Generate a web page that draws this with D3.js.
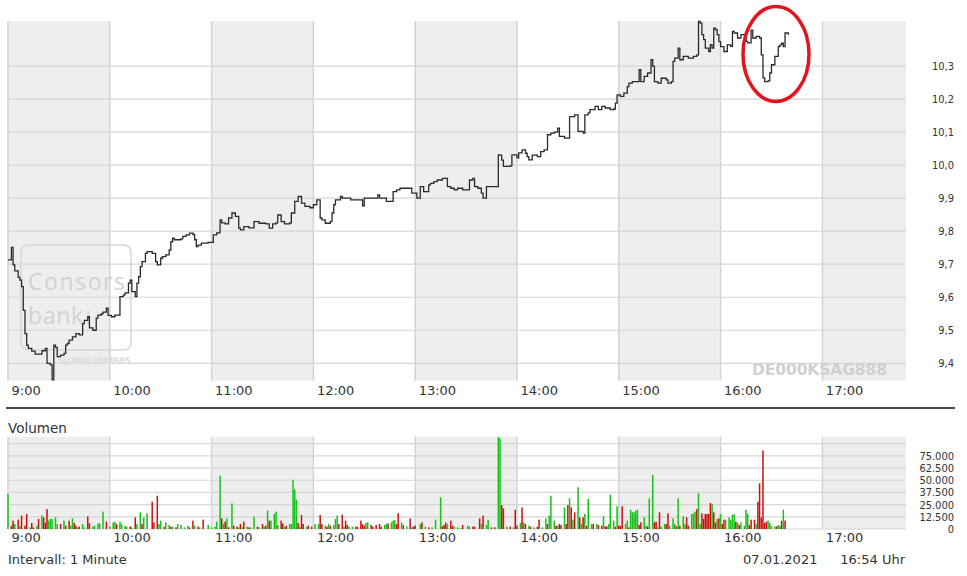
<!DOCTYPE html>
<html>
<head>
<meta charset="utf-8">
<script src="https://cdn.jsdelivr.net/npm/d3@7"></script>
<style>
  body { margin: 0; background: #fff; }
  text { font-family: "DejaVu Sans", Verdana, sans-serif; fill: #333; }
  .num text, text.num { font-family: "DejaVu Sans Condensed", "Liberation Sans", Arial, sans-serif; font-size: 11px; }
</style>
</head>
<body>
<svg id="chart" width="967" height="576"></svg>
<script>
// minutes after 9:00 where the price changes, and the new price
const priceMinutes = [0,2,3,4,6,7,8,9,10,11,12,14,16,20,22,23,25,26,27,28,29,31,33,34,35,36,38,40,42,44,45,47,48,50,52,53,55,56,58,59,61,63,66,68,69,71,72,73,75,76,77,78,79,81,82,85,87,88,90,91,93,95,96,97,98,102,103,105,107,109,110,111,112,114,118,121,123,125,126,128,130,132,134,136,137,139,142,145,148,152,154,156,158,159,161,163,166,167,169,171,173,175,178,180,182,184,185,187,190,191,192,193,196,197,202,209,210,218,219,223,227,229,231,238,241,243,245,248,249,251,253,256,259,261,263,265,268,272,274,275,277,279,280,282,289,290,291,292,296,297,300,301,303,305,306,307,309,312,314,316,318,320,322,324,325,328,331,334,336,339,340,342,343,346,348,350,352,355,357,358,359,361,363,365,366,368,372,373,375,377,379,380,381,383,385,388,389,391,392,393,395,396,398,401,404,406,407,408,409,410,411,413,414,415,416,417,418,419,420,422,424,426,427,428,430,432,435,436,438,439,441,443,444,445,446,448,449,450,452,454,455,456,457,458,460];
const priceValues = [9.713,9.751,9.698,9.680,9.660,9.652,9.632,9.560,9.490,9.455,9.445,9.437,9.428,9.438,9.445,9.400,9.395,9.350,9.455,9.448,9.420,9.425,9.430,9.455,9.460,9.470,9.480,9.490,9.486,9.520,9.530,9.541,9.507,9.500,9.537,9.546,9.550,9.555,9.567,9.545,9.541,9.546,9.602,9.607,9.613,9.643,9.652,9.617,9.602,9.643,9.662,9.693,9.708,9.733,9.738,9.733,9.708,9.698,9.718,9.723,9.728,9.743,9.768,9.779,9.774,9.777,9.784,9.789,9.794,9.790,9.774,9.753,9.758,9.764,9.766,9.789,9.795,9.834,9.825,9.822,9.840,9.855,9.845,9.809,9.804,9.814,9.810,9.829,9.824,9.822,9.809,9.822,9.825,9.849,9.829,9.822,9.825,9.855,9.890,9.905,9.885,9.875,9.871,9.880,9.895,9.840,9.834,9.824,9.830,9.855,9.880,9.895,9.905,9.900,9.895,9.877,9.900,9.910,9.900,9.890,9.920,9.925,9.930,9.915,9.900,9.935,9.920,9.940,9.945,9.950,9.955,9.960,9.935,9.930,9.925,9.930,9.925,9.955,9.960,9.935,9.930,9.915,9.900,9.935,10.031,10.030,10.015,9.996,9.998,10.031,10.022,10.037,10.046,10.036,10.026,10.016,10.030,10.026,10.041,10.046,10.092,10.097,10.100,10.112,10.087,10.082,10.147,10.152,10.102,10.097,10.152,10.158,10.168,10.178,10.168,10.178,10.173,10.168,10.170,10.188,10.213,10.208,10.218,10.238,10.248,10.253,10.289,10.253,10.269,10.279,10.319,10.300,10.253,10.248,10.263,10.258,10.248,10.253,10.314,10.324,10.354,10.319,10.329,10.324,10.329,10.334,10.435,10.430,10.395,10.380,10.354,10.344,10.365,10.354,10.415,10.410,10.395,10.374,10.359,10.344,10.364,10.360,10.405,10.400,10.385,10.395,10.375,10.370,10.409,10.385,10.390,10.385,10.334,10.264,10.253,10.255,10.279,10.304,10.329,10.359,10.364,10.369,10.359,10.400,10.395];

const volumeMinutes = [0,2,3,4,6,7,8,10,11,13,14,15,17,18,20,21,22,23,24,25,26,28,29,31,33,34,36,37,38,39,40,41,42,44,45,47,48,50,51,53,54,56,58,60,62,63,64,66,67,69,70,72,73,75,76,78,79,80,82,85,86,88,89,90,92,93,95,96,97,99,100,102,104,106,107,109,110,112,113,115,118,120,122,123,125,126,127,128,129,130,132,133,135,136,137,138,139,141,142,143,145,147,148,150,151,152,153,154,155,157,158,159,161,162,163,164,166,167,168,169,170,171,172,173,174,176,177,179,181,183,184,185,187,188,189,190,192,193,194,195,197,198,199,200,201,203,205,206,208,209,210,211,212,214,215,217,219,220,222,223,224,226,227,228,229,230,232,233,235,237,238,239,240,243,244,246,248,250,252,255,256,257,258,259,261,262,263,265,267,268,271,272,274,275,278,279,280,282,283,285,287,289,290,291,292,294,296,298,299,300,302,303,304,305,307,308,310,312,313,315,317,318,319,320,322,323,324,325,326,328,329,330,331,332,333,334,336,337,338,339,340,341,342,344,345,347,348,350,351,352,353,354,355,357,358,359,360,361,362,364,365,366,367,368,369,370,371,372,373,375,376,377,378,380,381,382,383,384,385,387,388,389,390,392,393,394,395,396,398,399,400,401,403,404,405,406,407,408,409,410,411,412,413,414,415,416,417,418,419,420,421,422,423,425,426,427,428,429,430,431,432,434,435,436,437,438,440,441,442,443,444,445,446,447,448,449,450,452,453,454,455,456,457,458];
const volumeValues = [35900,3400,8600,5100,9600,3400,13700,3400,15400,1700,6200,1700,3400,10300,13700,12000,6800,20500,8600,10300,10300,12000,5100,5100,8600,3400,8600,3400,10900,6200,3400,1700,2400,5100,1700,13000,5800,2400,3400,5800,5800,17800,7500,2400,6800,7500,5100,7500,5100,3400,2400,2700,1700,12000,5100,17100,5100,12000,16100,28000,6800,34200,5100,8600,2400,6800,4100,2400,2400,1700,5100,4100,1700,3400,1700,8600,3400,2700,1700,9600,4100,1700,2400,7500,54700,10900,5100,7500,10900,1700,26300,3400,2400,1700,5100,1700,7500,2400,1700,1700,12700,2400,1700,5100,2400,3400,18800,8600,8600,15400,17800,4100,8600,5800,2400,3400,5100,5100,50600,40400,30100,6200,2400,14400,5100,2400,3400,2400,5100,5100,14400,5100,3400,2400,5100,3400,4100,10300,13700,5100,14700,2400,8600,4100,2400,2400,2400,2400,8600,5100,3400,6200,6800,4100,2400,4100,5100,2400,4100,5100,5800,6800,8600,9200,5100,16100,6800,4100,2700,10900,1700,2700,3400,5100,6800,2400,1700,1700,9600,32500,2700,4100,6800,5100,8600,3400,2400,1700,1000,4100,3400,2400,2400,2400,10900,5100,13700,4100,9600,1700,1700,94500,93000,24600,21200,2400,2400,1700,19800,3400,6200,22200,6800,5100,3400,2400,1700,2400,9600,1700,10900,5100,13700,34200,8600,3400,3400,5100,4100,22200,5100,24600,31500,22200,9600,17100,42800,12000,5100,12000,15400,3400,30800,5100,5100,5100,4100,3400,13000,2700,2700,5100,35200,8600,2400,23300,3400,3400,23300,5100,8600,1700,19800,17100,17100,18800,19800,4100,6800,12000,3400,2700,31500,55400,6800,7500,1700,17100,2700,5100,5100,16100,3400,10900,5100,2700,31500,3400,13000,5100,12000,3400,15400,16100,17800,20500,36900,5100,16100,10300,15400,15400,15400,26700,25600,17100,6800,10300,10900,15400,5100,9600,9600,12000,9600,14400,15400,7500,6800,4100,6800,3400,19800,15400,4100,9600,9600,5100,28000,46900,12000,80400,6200,7500,8600,6200,3400,2400,2700,4100,3400,8600,19800,8600];
const volumeDirection = ["u","d","d","u","d","u","d","d","d","u","d","d","u","d","u","d","d","d","u","u","u","u","u","d","u","d","d","u","u","d","d","u","d","u","u","d","d","u","u","u","u","u","d","u","u","u","d","u","u","u","u","d","u","d","u","u","d","u","u","d","d","d","u","u","d","u","u","d","u","d","u","u","u","u","d","d","u","d","u","d","u","u","u","u","u","d","u","d","u","d","u","d","d","u","d","u","d","u","d","u","u","d","u","d","u","d","u","d","u","u","u","u","d","d","u","d","u","u","u","u","u","d","u","d","d","u","d","d","u","u","d","d","u","d","u","d","u","u","u","d","d","u","d","d","u","u","d","d","d","d","d","u","u","d","d","d","d","d","u","u","d","u","u","u","d","d","u","d","u","d","u","d","d","u","d","u","d","u","u","u","d","d","d","u","d","d","u","u","u","d","u","u","d","d","d","u","d","u","u","d","d","u","u","d","d","u","d","u","d","d","u","d","u","d","u","d","u","d","d","u","u","d","u","u","u","d","u","d","d","u","d","d","u","d","u","d","u","d","u","d","u","d","u","u","d","u","d","d","u","d","d","u","u","u","d","u","d","d","d","u","u","d","u","u","u","u","u","d","d","u","u","d","u","u","d","d","u","d","u","u","d","d","u","u","u","d","u","d","u","u","d","d","u","u","u","d","u","u","d","d","d","d","d","d","u","d","d","u","d","u","d","d","u","u","u","u","u","d","u","d","u","u","u","u","d","d","d","u","d","d","d","d","d","d","u","u","u","u","d","u","u","d","u","d","u"];

const priceTicks = [9.4, 9.5, 9.6, 9.7, 9.8, 9.9, 10.0, 10.1, 10.2, 10.3];
const volumeTicks = [0, 12500, 25000, 37500, 50000, 62500, 75000];
const volumeGrid = [0, 12500, 25000, 37500, 50000, 62500, 75000, 87500];
const sessionHours = [9, 10, 11, 12, 13, 14, 15, 16, 17];

const de = d3.formatLocale({ decimal: ",", thousands: ".", grouping: [3], currency: ["", " €"] });
const start = new Date(2021, 0, 7, 9, 0);
const toDate = m => new Date(start.getTime() + m * 60000);

const svg = d3.select("#chart");

const left = 8, right = 906;
const top1 = 21, bottom1 = 380.7;
const top2 = 436.7, bottom2 = 529;

const x = d3.scaleTime().domain([toDate(0), toDate(529.3)]).range([left, right]);
const y = d3.scaleLinear().domain([9.3473, 10.4364]).range([bottom1, top1]);
const yVol = d3.scaleLinear().domain([0, 94700]).range([bottom2, top2]);

// background bands, one per hour, for both panels
function drawPanel(g, y0, y1) {
  const end = x.domain()[1];
  g.selectAll("rect.band")
    .data(sessionHours)
    .join("rect")
    .attr("class", "band")
    .attr("x", h => x(toDate((h - 9) * 60)))
    .attr("width", h => x(d3.min([toDate((h - 8) * 60), end])) - x(toDate((h - 9) * 60)))
    .attr("y", y0)
    .attr("height", y1 - y0)
    .attr("fill", (h, i) => (i % 2 === 0 ? "#eeeeee" : "#ffffff"));

  g.selectAll("line.vgrid")
    .data(sessionHours)
    .join("line")
    .attr("class", "vgrid")
    .attr("x1", h => x(toDate((h - 9) * 60)))
    .attr("x2", h => x(toDate((h - 9) * 60)))
    .attr("y1", y0)
    .attr("y2", y1)
    .attr("stroke", "#d3d3d3")
    .attr("stroke-width", 1.5);
}

const pricePanel = svg.append("g");
drawPanel(pricePanel, top1, bottom1);
pricePanel.selectAll("line.hgrid")
  .data(priceTicks)
  .join("line")
  .attr("class", "hgrid")
  .attr("x1", left).attr("x2", right)
  .attr("y1", d => y(d)).attr("y2", d => y(d))
  .attr("stroke", "#d6d6d6")
  .attr("stroke-width", 1.2);

const volPanel = svg.append("g");
drawPanel(volPanel, top2, bottom2);
volPanel.selectAll("line.hgrid")
  .data(volumeGrid)
  .join("line")
  .attr("class", "hgrid")
  .attr("x1", left).attr("x2", right)
  .attr("y1", d => yVol(d)).attr("y2", d => yVol(d))
  .attr("stroke", "#d6d6d6")
  .attr("stroke-width", 1.2);

// watermark
const wm = svg.append("g");
wm.append("rect")
  .attr("x", 21).attr("y", 245).attr("width", 110).attr("height", 105).attr("rx", 7)
  .attr("fill", "none").attr("stroke", "#d6d6d6").attr("stroke-width", 1.5);
wm.append("text").attr("x", 28).attr("y", 290).attr("textLength", 97)
  .style("font-family", "'Open Sans', sans-serif").style("font-size", "23px").style("fill", "#d2d2d2")
  .text("Consors");
wm.append("text").attr("x", 28).attr("y", 324).attr("textLength", 55)
  .style("font-family", "'Open Sans', sans-serif").style("font-size", "23px").style("fill", "#d2d2d2")
  .text("bank");
wm.append("text").attr("x", 86).attr("y", 324)
  .style("font-family", "'Open Sans', sans-serif").style("font-size", "18px").style("fill", "#d2d2d2")
  .text("!");
wm.append("text").attr("x", 58).attr("y", 364).attr("textLength", 73)
  .style("font-size", "9px").style("font-weight", "bold").style("fill", "#dedede")
  .text("by BNP PARIBAS");

svg.append("text")
  .attr("x", 752).attr("y", 375).attr("textLength", 135)
  .style("font-size", "15.5px").style("font-weight", "bold").style("fill", "#d0d0d0")
  .text("DE000KSAG888");

// price line
svg.append("clipPath").attr("id", "clip-price")
  .append("rect").attr("x", left).attr("y", top1 - 1).attr("width", right - left).attr("height", bottom1 - top1 + 1);

const pricePoints = priceMinutes.map((m, i) => ({ t: toDate(m), v: priceValues[i] }));
const line = d3.line().x(d => x(d.t)).y(d => y(d.v)).curve(d3.curveStepAfter);
svg.append("path")
  .datum(pricePoints)
  .attr("clip-path", "url(#clip-price)")
  .attr("d", line)
  .attr("fill", "none")
  .attr("stroke", "#2a2a2a")
  .attr("stroke-width", 1.3);

// volume bars
const volumePoints = volumeMinutes.map((m, i) => ({ t: toDate(m), v: volumeValues[i], dir: volumeDirection[i] }));
svg.append("g")
  .selectAll("rect")
  .data(volumePoints)
  .join("rect")
  .attr("x", d => x(d.t) - 0.75)
  .attr("width", 1.5)
  .attr("y", d => Math.max(yVol(d.v), top2))
  .attr("height", d => bottom2 - Math.max(yVol(d.v), top2))
  .attr("fill", d => (d.dir === "u" ? "#17c117" : "#cc1010"));

// time axes
function timeAxis(yPos, baseline) {
  const g = svg.append("g")
    .attr("transform", `translate(0,${yPos})`)
    .call(d3.axisBottom(x).ticks(d3.timeHour.every(1)).tickFormat(d3.timeFormat("%-H:%M")).tickSize(0));
  g.select(".domain").remove();
  g.selectAll("text")
    .attr("text-anchor", "start")
    .attr("x", 3)
    .attr("y", baseline - yPos)
    .attr("dy", null)
    .attr("fill", "#333")
    .style("font-size", "13px")
    .style("font-family", "'DejaVu Sans', Verdana, sans-serif");
}
timeAxis(bottom1, 395);
timeAxis(bottom2, 541.5);

// value axes
const priceAxis = svg.append("g")
  .attr("class", "num")
  .attr("transform", "translate(954,0)")
  .call(d3.axisLeft(y).tickValues(priceTicks).tickFormat(de.format(",.1f")).tickSize(0).tickPadding(0));
priceAxis.select(".domain").remove();
priceAxis.selectAll("text").attr("fill", "#333");

const volAxis = svg.append("g")
  .attr("class", "num")
  .attr("transform", "translate(954,0)")
  .call(d3.axisLeft(yVol).tickValues(volumeTicks).tickFormat(de.format(",.0f")).tickSize(0).tickPadding(0));
volAxis.select(".domain").remove();
volAxis.selectAll("text").attr("fill", "#333");

// divider and labels
svg.append("line")
  .attr("x1", 6).attr("x2", 955).attr("y1", 408).attr("y2", 408)
  .attr("stroke", "#4a4a4a").attr("stroke-width", 2);

svg.append("text").attr("x", 8).attr("y", 433).style("font-size", "13.5px").text("Volumen");
svg.append("text").attr("x", 8).attr("y", 563.5).style("font-size", "13px").text("Intervall: 1 Minute");
svg.append("text").attr("x", 743).attr("y", 563.5).style("font-size", "13px").text("07.01.2021");
svg.append("text").attr("x", 905).attr("y", 563.5).attr("text-anchor", "end").style("font-size", "13px").text("16:54 Uhr");

// highlight around the late dip
svg.append("ellipse")
  .attr("cx", 776).attr("cy", 54).attr("rx", 33).attr("ry", 47.5)
  .attr("fill", "none").attr("stroke", "#e3151c").attr("stroke-width", 3.5);
</script>
</body>
</html>
